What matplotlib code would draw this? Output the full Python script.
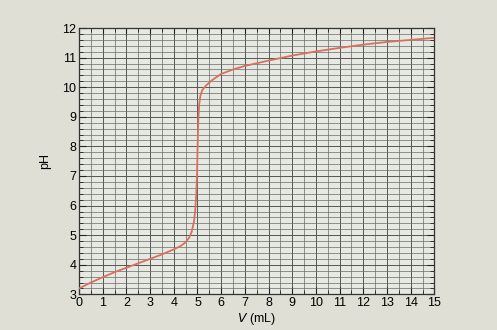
import numpy as np
import matplotlib
matplotlib.use("Agg")
import matplotlib.pyplot as plt
from matplotlib.ticker import MultipleLocator

# titration curve
vol = [0, 0.5, 1, 1.5, 2, 2.5, 3, 3.5, 4, 4.3, 4.5, 4.65, 4.75, 4.85, 4.9, 4.95,
       4.98, 5.0, 5.03, 5.07, 5.12, 5.2, 5.35, 5.6, 6, 6.5, 7, 8, 9, 10, 11, 12, 13, 14, 15]
ph = [3.2, 3.4, 3.58, 3.75, 3.9, 4.05, 4.2, 4.35, 4.52, 4.64, 4.76, 4.92, 5.1, 5.45, 5.8, 6.4,
      7.0, 7.8, 8.8, 9.4, 9.7, 9.9, 10.05, 10.23, 10.45, 10.6, 10.72, 10.9, 11.07, 11.21, 11.33, 11.44, 11.53, 11.6, 11.67]

xticks = list(range(0, 16))
yticks = list(range(3, 13))

plt.rcParams['font.family'] = ['Liberation Sans', 'DejaVu Sans']

fig = plt.figure(figsize=(4.97, 3.30), dpi=100)
fig.patch.set_facecolor('#dfdfd6')
ax = fig.add_axes([0.159, 0.108, 0.715, 0.807])
ax.set_facecolor('#e6e9e1')

ax.plot(vol, ph, color='#d9705f', lw=1.3, zorder=3)

ax.set_xlim(0, 15)
ax.set_ylim(3, 12)
ax.set_xticks(xticks)
ax.set_yticks(yticks)
ax.xaxis.set_minor_locator(MultipleLocator(0.5))
ax.yaxis.set_minor_locator(MultipleLocator(0.2))
ax.grid(which='major', color='#555', lw=0.7)
ax.grid(which='minor', color='#6a6a6a', lw=0.5)
ax.tick_params(which='both', direction='in', top=True, right=True, color='#222', labelsize=9, pad=2)
ax.tick_params(which='major', length=5)
ax.tick_params(which='minor', length=3)
for s in ax.spines.values():
    s.set_color('#333')
    s.set_linewidth(0.9)

ax.set_ylabel('pH', fontsize=9, labelpad=8)
ax.set_xlabel('$V$ (mL)', fontsize=9, labelpad=1)

fig.savefig('out.png', dpi=100, facecolor=fig.get_facecolor())
